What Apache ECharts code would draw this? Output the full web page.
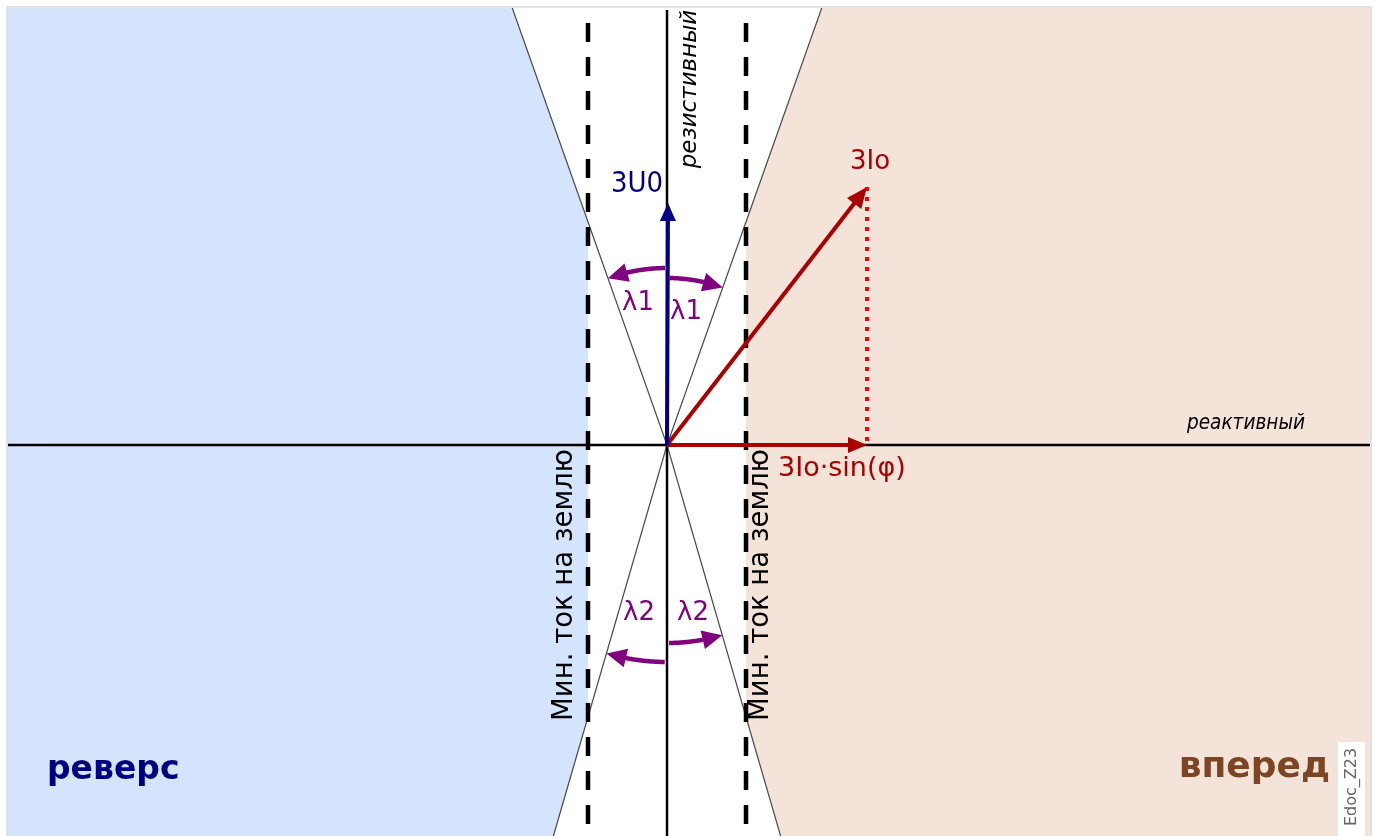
<!DOCTYPE html>
<html><head><meta charset="utf-8">
<script src="https://cdn.jsdelivr.net/npm/echarts@6/dist/echarts.min.js"></script>
<style>html,body{margin:0;padding:0;background:#fff}#c{width:1375px;height:836px}</style>
</head><body><div id="c"></div>
<script>
// ---- data ----
const xRange = [-659, 703];
const yRange = [-391, 437];
const lambda1 = 19.5;          // degrees, upper sector half-angle
const lambda2 = 16.2;          // degrees, lower sector half-angle
const minCurrent = 79;         // min earth current threshold (± on reactive axis)
const vecU0 = [1, 242];        // 3U0 vector
const vecIo = [200, 258];      // 3Io vector
const arcLambda1Radii = [177, 167]; // left, right
const arcLambda2Radii = [217, 198]; // left, right
const labels = {
  u0: '3U0', io: '3Io', ioSin: '3Io·sin(φ)', l1: 'λ1', l2: 'λ2',
  resistive: 'резистивный', reactive: 'реактивный', minCur: 'Мин. ток на землю',
  reverse: 'реверс', forward: 'вперед', doc: 'Edoc_Z23'
};

const FONT = '"DejaVu Sans", sans-serif';
const NAVY = '#000080', DRED = '#aa0000', PURPLE = '#800080';
const d2r = Math.PI / 180;
const t1 = Math.tan(lambda1 * d2r), t2 = Math.tan(lambda2 * d2r);
const [xmin, xmax] = xRange, [ymin, ymax] = yRange;
const m = minCurrent;

const reversePoly = [[xmin, ymax], [-t1 * ymax, ymax], [-m, m / t1], [-m, -m / t2], [t2 * ymin, ymin], [xmin, ymin]];
const forwardPoly = [[xmax, ymax], [t1 * ymax, ymax], [m, m / t1], [m, -m / t2], [-t2 * ymin, ymin], [xmax, ymin]];
const boundaries = [
  [[0, 0], [-t1 * ymax, ymax]], [[0, 0], [t1 * ymax, ymax]],
  [[0, 0], [t2 * ymin, ymin]], [[0, 0], [-t2 * ymin, ymin]]
];

function arrow(api, a, b, color, w, headLen, headHalf) {
  const p0 = api.coord(a), p1 = api.coord(b);
  const dx = p1[0] - p0[0], dy = p1[1] - p0[1];
  const L = Math.hypot(dx, dy), ux = dx / L, uy = dy / L;
  const bx = p1[0] - ux * headLen, by = p1[1] - uy * headLen;
  return [
    { type: 'line', shape: { x1: p0[0], y1: p0[1], x2: bx + ux * 1, y2: by + uy * 1 }, style: { stroke: color, lineWidth: w } },
    { type: 'polygon', shape: { points: [[p1[0], p1[1]], [bx - uy * headHalf, by + ux * headHalf], [bx + uy * headHalf, by - ux * headHalf]] }, style: { fill: color } }
  ];
}

function arc(api, side, upper, r, lam, color) {
  const pts = [];
  const N = 60;
  const th0 = 0.6 * d2r, th1 = lam * d2r;
  for (let i = 0; i <= N; i++) {
    const th = th0 + (th1 - th0) * i / N;
    pts.push(api.coord([side * r * Math.sin(th), (upper ? 1 : -1) * r * Math.cos(th)]));
  }
  const tip = pts[pts.length - 1];
  const headLen = 20, headHalf = 9.5;
  let k = pts.length - 1;
  while (k > 0 && Math.hypot(pts[k][0] - tip[0], pts[k][1] - tip[1]) < headLen) k--;
  const base = pts[k];
  const dx = tip[0] - base[0], dy = tip[1] - base[1];
  const n = Math.hypot(dx, dy);
  const vx = dx / n, vy = dy / n;
  const bx = tip[0] - vx * headLen, by = tip[1] - vy * headLen;
  return [
    { type: 'polyline', shape: { points: pts.slice(0, k + 2) }, style: { stroke: color, lineWidth: 4.5, fill: null } },
    { type: 'polygon', shape: { points: [tip, [bx - vy * headHalf, by + vx * headHalf], [bx + vy * headHalf, by - vx * headHalf]] }, style: { fill: color } }
  ];
}

function renderAll(params, api) {
  const ch = [];
  const poly = (P, fill) => ({ type: 'polygon', shape: { points: P.map(p => api.coord(p)) }, style: { fill } });
  ch.push(poly(reversePoly, '#d5e4fd'));
  ch.push(poly(forwardPoly, '#f4e3d8'));
  boundaries.forEach(b => {
    const a = api.coord(b[0]), c = api.coord(b[1]);
    ch.push({ type: 'line', shape: { x1: a[0], y1: a[1], x2: c[0], y2: c[1] }, style: { stroke: '#4a4a4a', lineWidth: 1.2 } });
  });
  [-m, m].forEach(x => {
    const a = api.coord([x, 422]), c = api.coord([x, ymin]);
    ch.push({ type: 'line', shape: { x1: a[0], y1: a[1], x2: c[0], y2: c[1] }, style: { stroke: '#000', lineWidth: 4.5, lineDash: [19, 15] } });
  });
  let a = api.coord([xmin, 0]), c = api.coord([xmax, 0]);
  ch.push({ type: 'line', shape: { x1: a[0], y1: a[1], x2: c[0], y2: c[1] }, style: { stroke: '#000', lineWidth: 2.5 } });
  a = api.coord([0, 435]); c = api.coord([0, ymin]);
  ch.push({ type: 'line', shape: { x1: a[0], y1: a[1], x2: c[0], y2: c[1] }, style: { stroke: '#000', lineWidth: 2.5 } });
  a = api.coord(vecIo); c = api.coord([vecIo[0], 0]);
  ch.push({ type: 'line', shape: { x1: a[0], y1: a[1], x2: c[0], y2: c[1] }, style: { stroke: '#ff0000', lineWidth: 4, lineDash: [4, 6] } });
  ch.push(...arrow(api, [0, 0], [vecIo[0], 0], DRED, 4, 19, 8));
  ch.push(...arrow(api, [0, 0], vecIo, DRED, 4, 21, 9));
  ch.push(...arrow(api, [0, 0], vecU0, NAVY, 4, 18, 8));
  ch.push(...arc(api, -1, true, arcLambda1Radii[0], lambda1, PURPLE));
  ch.push(...arc(api, 1, true, arcLambda1Radii[1], lambda1, PURPLE));
  ch.push(...arc(api, -1, false, arcLambda2Radii[0], lambda2, PURPLE));
  ch.push(...arc(api, 1, false, arcLambda2Radii[1], lambda2, PURPLE));
  return { type: 'group', children: ch };
}

function txt(text, x, y, opt) {
  return {
    type: 'text', x, y, rotation: opt.rot || 0, scaleX: opt.sx || 1, scaleY: opt.sy || 1, z: 100,
    style: Object.assign({ text, fill: opt.color || '#000', font: (opt.style || '') + ' ' + (opt.weight || 'normal') + ' ' + opt.size + 'px ' + FONT,
      textAlign: opt.align || 'center', textVerticalAlign: 'middle' })
  };
}

const chart = echarts.init(document.getElementById('c'), null, { renderer: 'canvas' });
chart.setOption({
  animation: false,
  grid: { left: 8, right: 5, top: 8, bottom: 0 },
  xAxis: { type: 'value', min: xmin, max: xmax, show: false },
  yAxis: { type: 'value', min: ymin, max: ymax, show: false },
  series: [{ type: 'custom', data: [[0, 0]], renderItem: renderAll, clip: false, silent: true }],
  graphic: [
    { type: 'rect', shape: { x: 7, y: 7, width: 1364, height: 836 }, style: { fill: null, stroke: '#e2e2e2', lineWidth: 2 }, z: 200 },
    txt(labels.u0, 637, 184, { color: NAVY, size: 26, sy: 1.12 }),
    txt(labels.io, 870, 162, { color: DRED, size: 26 }),
    txt(labels.ioSin, 778, 469, { color: DRED, size: 27, align: 'left' }),
    txt(labels.l1, 638, 303, { color: PURPLE, size: 26 }),
    txt(labels.l1, 686, 312, { color: PURPLE, size: 26 }),
    txt(labels.l2, 639, 613, { color: PURPLE, size: 26 }),
    txt(labels.l2, 693, 613, { color: PURPLE, size: 26 }),
    txt(labels.resistive, 690, 89, { size: 23, style: 'italic', rot: Math.PI / 2 }),
    txt(labels.reactive, 1305, 423, { size: 21.5, style: 'italic', align: 'right', sx: 0.86 }),
    txt(labels.minCur, 565, 585, { size: 27.5, rot: Math.PI / 2 }),
    txt(labels.minCur, 761, 585, { size: 27.5, rot: Math.PI / 2 }),
    txt(labels.reverse, 47, 770, { color: NAVY, size: 33, weight: 'bold', align: 'left' }),
    txt(labels.forward, 1330, 768, { color: '#7e4524', size: 36, weight: 'bold', align: 'right' }),
    { type: 'rect', shape: { x: 1338, y: 742, width: 27, height: 94 }, style: { fill: '#ffffff' }, z: 90 },
    txt(labels.doc, 1352, 787, { color: '#666', size: 16, rot: Math.PI / 2 })
  ]
});
</script></body></html>
